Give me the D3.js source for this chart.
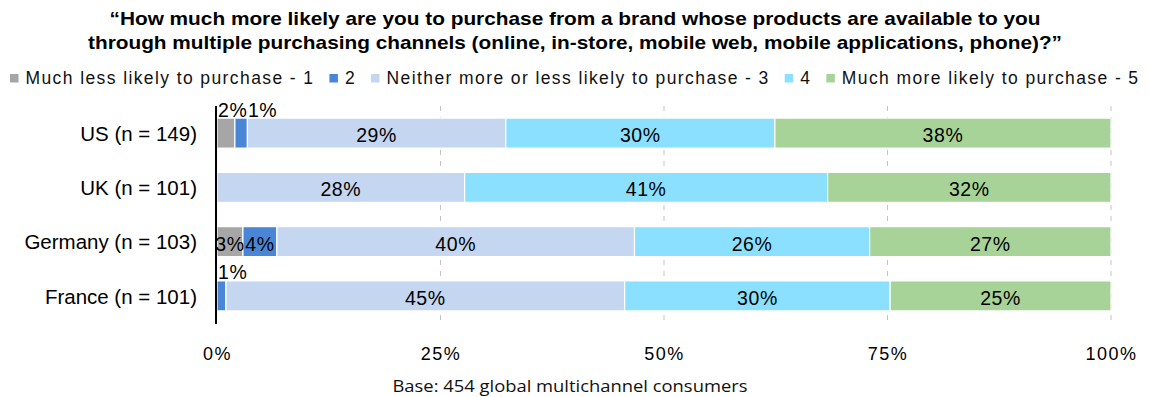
<!DOCTYPE html>
<html>
<head>
<meta charset="utf-8">
<script src="https://cdn.jsdelivr.net/npm/d3@7"></script>
<style>
  html, body { margin: 0; padding: 0; background: #fff; }
  svg { display: block; font-family: "Liberation Sans", Arial, sans-serif; }
</style>
</head>
<body>
<svg id="chart" width="1150" height="397"></svg>
<script>
// Survey responses by country, share of respondents per answer (percent)
const countries = ["US (n = 149)", "UK (n = 101)", "Germany (n = 103)", "France (n = 101)"];
const seriesNames = [
  "Much less likely to purchase - 1",
  "2",
  "Neither more or less likely to purchase - 3",
  "4",
  "Much more likely to purchase - 5"
];
const seriesColors = ["#a6a6a6", "#4a86d6", "#c4d6f0", "#8ae0fe", "#a7d398"];
const usValues      = [2.0, 1.4, 28.9, 30.1, 37.6];
const ukValues      = [0,   0,   27.7, 40.6, 31.7];
const germanyValues = [2.9, 3.8, 40.0, 26.3, 27.0];
const franceValues  = [0,   1.0, 44.6, 29.7, 24.7];
const tickValues = [0, 25, 50, 75, 100];
const titleLines = [
  "\u201CHow much more likely are you to purchase from a brand whose products are available to you",
  "through multiple purchasing channels (online, in-store, mobile web, mobile applications, phone)?\u201D"
];
const baseNote = "Base: 454 global multichannel consumers";

const rows = [usValues, ukValues, germanyValues, franceValues];

const svg = d3.select("#chart");

// Title
svg.append("g").selectAll("text")
  .data(titleLines)
  .join("text")
  .attr("x", 575)
  .attr("y", (d, i) => 25 + i * 23.5)
  .attr("text-anchor", "middle")
  .attr("font-weight", "bold")
  .attr("font-size", 19)
  .attr("fill", "#000")
  .attr("textLength", (d, i) => i === 0 ? 931 : 974)
  .attr("lengthAdjust", "spacingAndGlyphs")
  .text(d => d);

// Legend: square swatch followed by its label, laid out left to right
const legend = svg.append("g").attr("transform", "translate(10,0)");
let lx = 0;
seriesNames.forEach((name, i) => {
  const item = legend.append("g").attr("transform", `translate(${lx},0)`);
  item.append("rect")
    .attr("x", 0).attr("y", 74).attr("width", 8.5).attr("height", 8.5)
    .attr("fill", seriesColors[i]);
  const t = item.append("text")
    .attr("x", 15.5).attr("y", 84)
    .attr("font-size", 17.5)
    .attr("letter-spacing", "1.4px")
    .attr("fill", "#111")
    .text(name);
  lx += 15.5 + t.node().getComputedTextLength() + 15;
});

// Scales
const x = d3.scaleLinear().domain([0, 100]).range([217, 1111]);
const y = d3.scaleBand().domain(countries).range([106, 323])
  .paddingInner(0.447).paddingOuter(0.2235);

// Dashed gridlines
svg.append("g").selectAll("line")
  .data(tickValues.filter(v => v > 0))
  .join("line")
  .attr("x1", d => x(d)).attr("x2", d => x(d))
  .attr("y1", 106).attr("y2", 323)
  .attr("stroke", "#c3c3c3")
  .attr("stroke-width", 1)
  .attr("stroke-dasharray", "5,6");

// Stacked bars
const stackData = countries.map((c, ri) => {
  let acc = 0;
  return rows[ri].map((v, si) => {
    const seg = { country: c, series: si, value: v, x0: acc, x1: acc + v };
    acc += v;
    return seg;
  });
});

const barG = svg.append("g");
stackData.forEach(segs => {
  barG.selectAll(null)
    .data(segs.filter(s => s.value > 0))
    .join("rect")
    .attr("x", d => x(d.x0))
    .attr("y", d => y(d.country))
    .attr("width", d => x(d.x1) - x(d.x0))
    .attr("height", y.bandwidth())
    .attr("fill", d => seriesColors[d.series])
    .attr("stroke", "#fff")
    .attr("stroke-width", 1.2);
});

// Value labels: inside the segment, or above the bar when the segment is too thin
const fmt = v => Math.round(v) + "%";
const labelG = svg.append("g")
  .attr("font-size", 19.5)
  .attr("letter-spacing", "0.6px")
  .attr("fill", "#000");
stackData.forEach(segs => {
  let aboveX = x(0) + 1;
  segs.filter(s => s.value > 0).forEach(s => {
    if (s.value < 2.5) {
      const t = labelG.append("text")
        .attr("x", aboveX)
        .attr("y", y(s.country) - 1.5)
        .attr("text-anchor", "start")
        .text(fmt(s.value));
      aboveX += t.node().getComputedTextLength() + 0.5;
    } else {
      labelG.append("text")
        .attr("x", (x(s.x0) + x(s.x1)) / 2)
        .attr("y", y(s.country) + y.bandwidth() / 2)
        .attr("dy", "0.46em")
        .attr("text-anchor", "middle")
        .text(fmt(s.value));
    }
  });
});

// Category axis
const yAxis = svg.append("g")
  .attr("transform", `translate(${x(0) - 1},0)`)
  .call(d3.axisLeft(y).tickSize(0).tickPadding(19));
yAxis.select(".domain").remove();
yAxis.selectAll("text")
  .attr("font-size", 20.5)
  .attr("font-family", "\"Liberation Sans\", Arial, sans-serif")
  .attr("fill", "#000")
  .attr("dy", "0.38em");
svg.append("line")
  .attr("x1", x(0) - 1).attr("x2", x(0) - 1)
  .attr("y1", 106).attr("y2", 324)
  .attr("stroke", "#000").attr("stroke-width", 2);

// Percentage axis
const xAxis = svg.append("g")
  .attr("transform", "translate(0,323)")
  .call(d3.axisBottom(x).tickValues(tickValues).tickSize(0).tickPadding(24)
    .tickFormat(d => d + "%"));
xAxis.select(".domain").remove();
xAxis.selectAll("text")
  .attr("font-size", 18)
  .attr("letter-spacing", "1.5px")
  .attr("font-family", "\"Liberation Sans\", Arial, sans-serif")
  .attr("fill", "#000");

// Base note
svg.append("text")
  .attr("x", 570)
  .attr("y", 391.5)
  .attr("text-anchor", "middle")
  .attr("font-family", "\"Open Sans\", sans-serif")
  .attr("font-size", 16.5)
  .attr("fill", "#111")
  .attr("textLength", 355)
  .attr("lengthAdjust", "spacingAndGlyphs")
  .text(baseNote);
</script>
</body>
</html>
